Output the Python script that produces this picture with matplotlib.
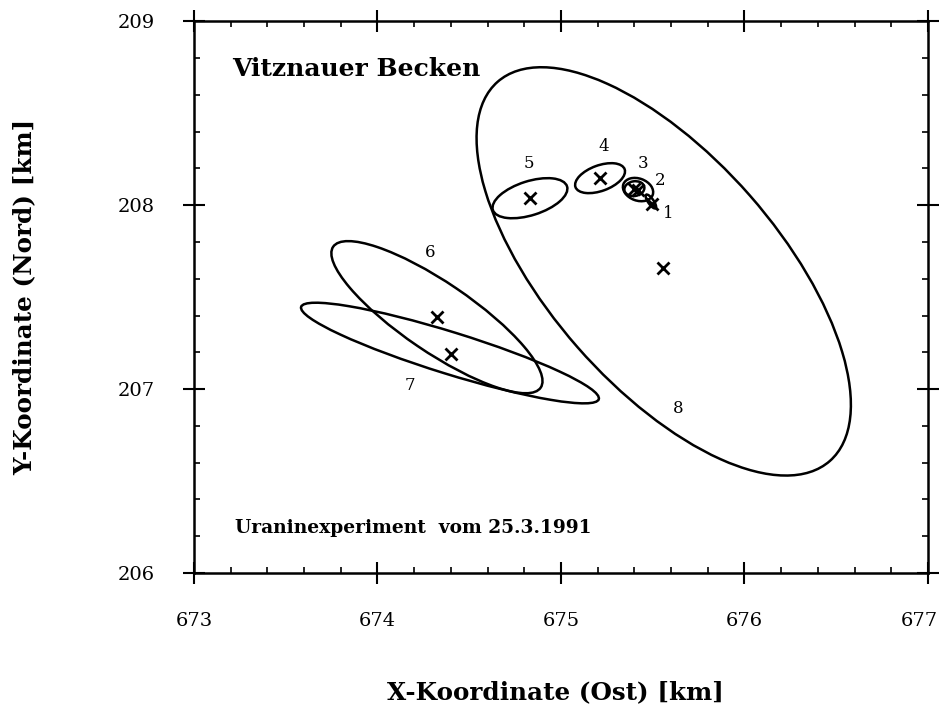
import matplotlib
matplotlib.use("Agg")
import matplotlib.pyplot as plt
from matplotlib.patches import Ellipse
from matplotlib.ticker import MultipleLocator
from matplotlib.transforms import ScaledTranslation

# Ellipsen 1..8: Zentrum, volle Achsen (km), Drehwinkel (Grad)
nummer = ["1", "2", "3", "4", "5", "6", "7", "8"]
x_zentrum = [675.49, 675.42, 675.40, 675.213, 674.831, 674.324, 674.395, 675.56]
y_zentrum = [208.02, 208.085, 208.09, 208.147, 208.038, 207.391, 207.196, 207.64]
breite = [0.09, 0.17, 0.11, 0.285, 0.424, 1.366, 1.698, 2.744]
hoehe = [0.03, 0.12, 0.08, 0.139, 0.185, 0.378, 0.228, 1.25]
winkel = [-55, -20, 10, 20, 17.6, -34.1, -17.2, -48.7]

# Schwerpunkte (Kreuze)
x_kreuz = [675.496, 675.42, 675.40, 675.213, 674.831, 674.324, 674.40, 675.556]
y_kreuz = [208.005, 208.085, 208.09, 208.147, 208.038, 207.391, 207.19, 207.66]

# Beschriftung der Nummern
x_text = [675.583, 675.540, 675.447, 675.234, 674.826, 674.286, 674.177, 675.638]
y_text = [207.957, 208.136, 208.228, 208.321, 208.228, 207.745, 207.022, 206.897]

x_ticks = [673, 674, 675, 676, 677]
y_ticks = [206, 207, 208, 209]

plt.rcParams["font.family"] = ["DejaVu Serif"]

fig = plt.figure(figsize=(9.44, 7.10), dpi=100)
ax = fig.add_axes([0.2055, 0.193, 0.7775, 0.777])

for i in range(len(nummer)):
    ax.add_patch(Ellipse((x_zentrum[i], y_zentrum[i]), breite[i], hoehe[i],
                         angle=winkel[i], fill=False, ec="black", lw=1.8))
    ax.text(x_text[i], y_text[i], nummer[i], fontsize=12, ha="center", va="center")

ax.plot(x_kreuz, y_kreuz, "x", color="black", ms=8, mew=2)

ax.set_xlim(673, 677)
ax.set_ylim(206, 209)
ax.set_xticks(x_ticks)
ax.set_yticks(y_ticks)
ax.xaxis.set_minor_locator(MultipleLocator(0.2))
ax.yaxis.set_minor_locator(MultipleLocator(0.2))
ax.tick_params(which="major", direction="inout", length=16, width=1.5,
               top=True, right=True, labelsize=14, pad=20)
ax.tick_params(which="minor", direction="in", length=4, width=1.2,
               top=True, right=True)
for s in ax.spines.values():
    s.set_linewidth(1.8)

# letzte Beschriftung etwas nach links, damit sie im Bild bleibt
letzte = ax.get_xticklabels()[-1]
letzte.set_transform(letzte.get_transform()
                     + ScaledTranslation(-6 / 72, 0, fig.dpi_scale_trans))

ax.text(0.052, 0.914, "Vitznauer Becken", transform=ax.transAxes,
        fontsize=18, fontweight="bold", va="center")
ax.text(0.056, 0.082, "Uraninexperiment  vom 25.3.1991", transform=ax.transAxes,
        fontsize=13.4, fontweight="bold", va="center")

ax.set_xlabel("X-Koordinate (Ost) [km]", fontsize=17.7, fontweight="bold")
ax.set_ylabel("Y-Koordinate (Nord) [km]", fontsize=17.7, fontweight="bold")
ax.xaxis.set_label_coords(0.492, -0.195)
ax.yaxis.set_label_coords(-0.215, 0.5)

fig.savefig("out.png", dpi=100)
